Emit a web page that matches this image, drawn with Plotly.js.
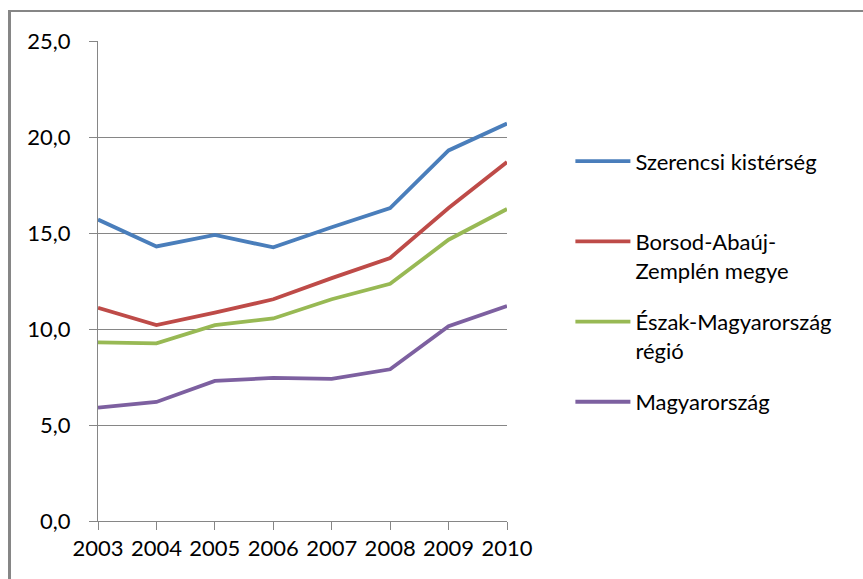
<!DOCTYPE html>
<html>
<head>
<meta charset="utf-8">
<script src="https://cdn.plot.ly/plotly-3.0.1.min.js"></script>
<style>
  html, body { margin: 0; padding: 0; background: #fff; }
  #wrap { position: relative; width: 863px; height: 579px; overflow: hidden; }
  #chart { position: absolute; left: 0; top: 0; width: 863px; height: 579px; }
  #frame { position: absolute; left: 8px; top: 10px; width: 900px; height: 600px;
           border-left: 3px solid #868686; border-top: 2px solid #868686; pointer-events: none; }
</style>
</head>
<body>
<div id="wrap">
  <div id="chart"></div>
  <div id="frame"></div>
</div>
<script>
const years = ['2003', '2004', '2005', '2006', '2007', '2008', '2009', '2010'];
const szerencsi = [15.7, 14.3, 14.9, 14.25, 15.3, 16.3, 19.3, 20.7];
const borsod = [11.1, 10.2, 10.85, 11.55, 12.65, 13.7, 16.3, 18.7];
const eszak = [9.3, 9.25, 10.2, 10.55, 11.55, 12.35, 14.65, 16.25];
const magyarorszag = [5.9, 6.2, 7.3, 7.45, 7.4, 7.9, 10.15, 11.2];
const seriesNames = ['Szerencsi kistérség<br> ', 'Borsod-Abaúj-<br>Zemplén megye', 'Észak-Magyarország<br>régió', 'Magyarország'];
const seriesColors = ['#4A7EBB', '#BE4B48', '#98B954', '#7D60A0'];
const yTicks = [0, 5, 10, 15, 20, 25];

const allSeries = [szerencsi, borsod, eszak, magyarorszag];
const traces = allSeries.map((vals, i) => ({
  type: 'scatter',
  mode: 'lines',
  x: years,
  y: vals,
  name: seriesNames[i],
  legendgroup: 'g' + i,
  line: { color: seriesColors[i], width: 3.8 },
  hoverinfo: 'x+y'
}));

const FONT = 'Lato, "Open Sans", sans-serif';
const axisGray = '#868686';

const layout = {
  width: 863,
  height: 579,
  margin: { l: 98, r: 356, t: 41, b: 58, pad: 0 },
  paper_bgcolor: '#ffffff',
  plot_bgcolor: '#ffffff',
  separators: ', ',
  font: { family: FONT, size: 22, color: '#000000' },
  showlegend: true,
  legend: {
    x: 1.155,
    xanchor: 'left',
    y: 0.793,
    yanchor: 'top',
    valign: 'top',
    tracegroupgap: 20,
    itemwidth: 55,
    bgcolor: 'rgba(0,0,0,0)',
    font: { family: FONT, size: 22, color: '#000000' }
  },
  xaxis: {
    type: 'category',
    range: [0, years.length - 1],
    showgrid: false,
    showline: true,
    linecolor: axisGray,
    linewidth: 1,
    ticks: 'outside',
    ticklen: 8,
    tickcolor: axisGray,
    tickwidth: 1,
    zeroline: false,
    fixedrange: true,
    tickfont: { family: FONT, size: 22, color: '#000000' }
  },
  yaxis: {
    range: [0, 25],
    tickvals: yTicks,
    tickformat: '.1f',
    showgrid: true,
    gridcolor: axisGray,
    gridwidth: 1,
    showline: true,
    linecolor: axisGray,
    linewidth: 1,
    ticks: 'outside',
    ticklen: 8,
    tickcolor: axisGray,
    tickwidth: 1,
    ticklabelstandoff: 14,
    zeroline: false,
    fixedrange: true,
    tickfont: { family: FONT, size: 22, color: '#000000' }
  }
};

Plotly.newPlot('chart', traces, layout, { displayModeBar: false, staticPlot: true });
</script>
</body>
</html>
